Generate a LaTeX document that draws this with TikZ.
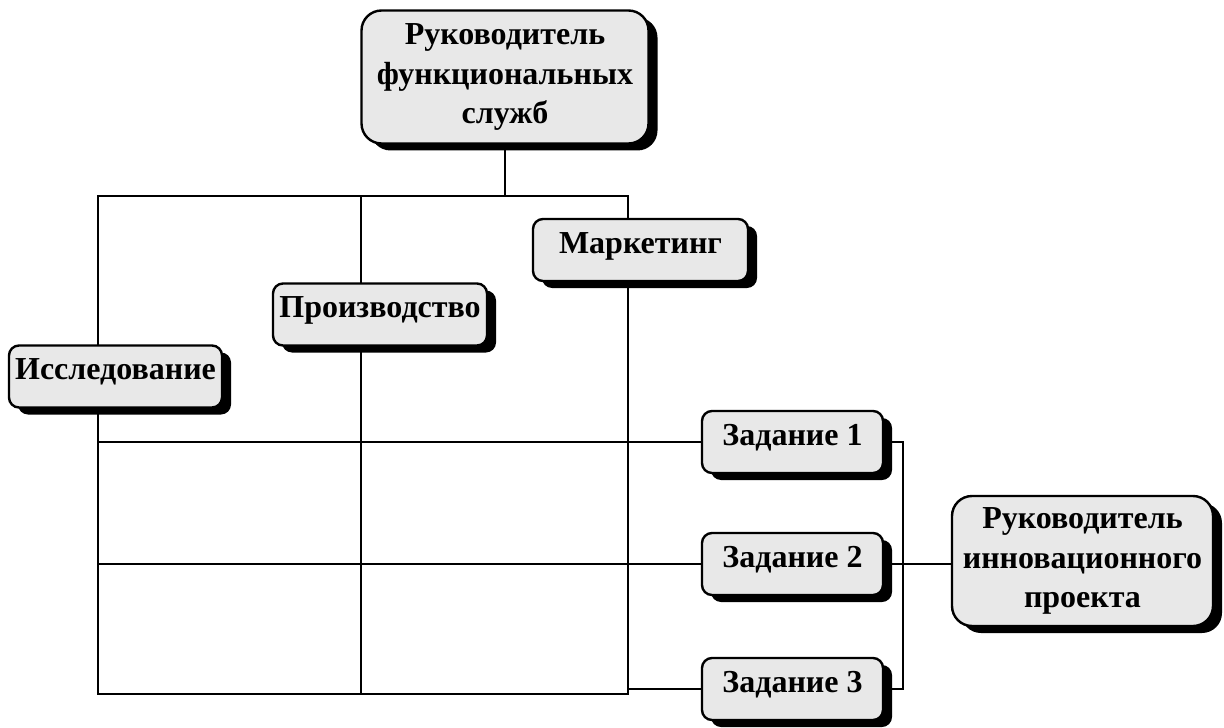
\documentclass[tikz,border=0pt]{standalone}
\usepackage{fontspec}
\setmainfont{Liberation Serif}
\usetikzlibrary{shadows}

\begin{document}
\begin{tikzpicture}[x=0.5pt,y=-0.5pt,
  box/.style={draw,line width=1.2pt,fill=black!9,rounded corners=5pt,
    drop shadow={shadow xshift=4.5pt,shadow yshift=-3.5pt,fill=black,opacity=1},
    font=\fontsize{16}{19.8}\selectfont\bfseries,inner xsep=0pt,inner ysep=0pt},
  onebox/.style={box,text height=17pt,text depth=14pt},
  bigbox/.style={box,rounded corners=10pt,align=center},
  wire/.style={line width=1.2pt}]
\useasboundingbox (0,0) rectangle (1224,727);
% grid of the functional departments
\coordinate (left) at (98,196);
\coordinate (mid) at (361,196);
\coordinate (right) at (628,694);
\draw[wire] (left) rectangle (right);
\draw[wire] (mid) -- (mid |- right);
% boxes
\node[bigbox,minimum width=143.5pt,minimum height=66.5pt] (rukf) at (505,77) {Руководитель\\функциональных\\служб};
\node[onebox,minimum width=106.5pt] (issl) at (115.5,376.5) {Исследование};
\node[onebox,minimum width=107pt] (proizv) at (380,314.5) {Производство};
\node[onebox,minimum width=107.5pt] (market) at (640.5,250) {Маркетинг};
\node[onebox,minimum width=90.5pt] (zad1) at (792.5,442) {Задание 1};
\node[onebox,minimum width=90.5pt] (zad2) at (792.5,564) {Задание 2};
\node[onebox,minimum width=90.5pt] (zad3) at (792.5,689) {Задание 3};
\node[bigbox,minimum width=130.5pt,minimum height=65pt] (rukp) at (1082.5,561) {Руководитель\\инновационного\\проекта};
% connectors
\draw[wire] (rukf.south) -- (rukf.south |- left);
\draw[wire] (zad1.west) -- (zad1.west -| left);
\draw[wire] (zad2.west) -- (zad2.west -| left);
\draw[wire] (zad3.west) -- (zad3.west -| right);
\coordinate (bk) at (903,564);
\draw[wire] (zad1.east) -| (bk) |- (zad3.east);
\draw[wire] (zad2.east) -- (zad2.east -| rukp.west);
\end{tikzpicture}
\end{document}
